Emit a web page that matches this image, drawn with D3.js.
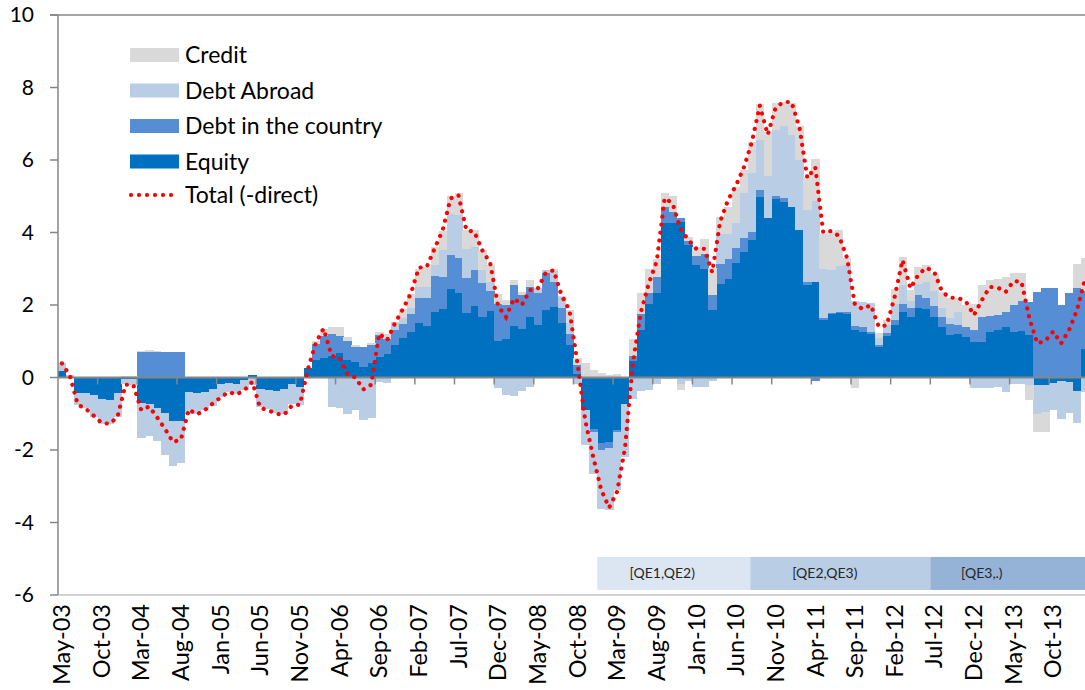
<!DOCTYPE html>
<html lang="en">
<head>
<meta charset="UTF-8">
<title>Portfolio flows</title>
<script src="https://d3js.org/d3.v7.min.js"></script>
<style>
  body { margin: 0; background: #fff; }
  svg { display: block; }
  text { font-family: Lato, "Open Sans", sans-serif; fill: #000; }
</style>
</head>
<body>
<script>
// monthly, May-03 .. Feb-14
const monthNames = ['Jan','Feb','Mar','Apr','May','Jun','Jul','Aug','Sep','Oct','Nov','Dec']
const months = []
for (let i = 0; i < 130; i++) {
  const m = (4 + i) % 12, yr = 3 + Math.floor((4 + i) / 12)
  months.push(monthNames[m] + '-' + String(yr).padStart(2, '0'))
}

const equity = [
  0.17, 0, -0.42, -0.44, -0.49, -0.6, -0.63, -0.44, -0.05, -0.05,
  -0.7, -0.72, -0.83, -0.97, -1.2, -1.2, -0.4, -0.42, -0.4, -0.33,
  -0.18, -0.15, -0.17, -0.07, 0.08, -0.33, -0.35, -0.37, -0.33, -0.17,
  -0.26, 0.25, 0.48, 0.55, 0.6, 0.68, 0.48, 0.43, 0.28, 0.39,
  0.57, 0.66, 0.89, 1.1, 1.26, 1.49, 1.43, 1.81, 1.88, 2.43,
  2.34, 1.78, 1.98, 1.66, 1.84, 1.01, 1.05, 1.43, 1.33, 1.67,
  1.45, 1.86, 1.95, 1.51, 0.89, 0.1, -0.9, -1.41, -1.82, -1.77,
  -1.45, -0.72, 0.45, 1.31, 2.04, 2.32, 4.25, 4.25, 4.3, 3.65,
  3.1, 3.0, 1.86, 2.59, 2.73, 3.16, 3.47, 3.79, 4.98, 4.39,
  4.92, 4.85, 4.69, 4.08, 2.55, 2.64, 1.6, 1.75, 1.77, 1.75,
  1.31, 1.26, 1.2, 0.83, 1.14, 1.44, 1.81, 1.66, 1.93, 1.88,
  1.67, 1.4, 1.17, 1.2, 1.12, 0.98, 0.98, 1.26, 1.32, 1.38,
  1.26, 1.29, 1.17, -0.2, -0.2, -0.15, -0.1, -0.12, -0.37, 0.8
]
const debtCountry = [
  0, 0, 0, 0, 0, 0, 0, 0, 0, 0,
  0.71, 0.71, 0.71, 0.71, 0.71, 0.71, 0, 0, 0, 0,
  0, 0, 0, 0, 0, 0, 0, 0, 0, 0,
  0, 0, 0.45, 0.59, 0.6, 0.46, 0.53, 0.41, 0.55, 0.51,
  0.6, 0.41, 0.43, 0.37, 0.49, 0.69, 0.75, 0.98, 0.9, 0.95,
  0.95, 0.97, 0.98, 0.94, 0.55, 1.03, 0.95, 1.12, 0.94, 0.83,
  0.88, 1.01, 0.69, 0.4, 0.3, 0.25, 0, -0.09, -0.17, -0.18,
  -0.05, 0, 0.15, 0.44, 0.28, 0.44, 0.46, 0.32, 0.1, 0.12,
  0.25, 0.41, 0.41, 0.53, 0.53, 0.4, 0.39, 0.23, 0.2, 0,
  0.1, 0.09, 0, 0, 0.09, -0.1, 0.03, 0.02, 0.05, 0.06,
  0.11, 0.12, 0.05, 0.06, 0.09, 0.16, 0.21, 0.27, 0.34, 0.3,
  0.29, 0.26, 0.3, 0.25, 0.28, 0.34, 0.69, 0.43, 0.4, 0.43,
  0.74, 0.83, 0.92, 2.36, 2.48, 2.46, 2.0, 2.34, 2.48, 1.6
]
const debtAbroad = [
  0.22, 0.08, -0.34, -0.39, -0.6, -0.67, -0.65, -0.64, -0.12, -0.15,
  -0.96, -0.88, -0.93, -1.17, -1.25, -1.16, -0.6, -0.6, -0.5, -0.45,
  -0.35, -0.25, -0.28, -0.28, -0.2, -0.48, -0.53, -0.61, -0.68, -0.55,
  -0.5, 0, 0, 0, -0.8, -0.84, -1.02, -0.9, -1.18, -1.13,
  -0.12, -0.15, 0.21, 0.16, 0.16, 0.32, 0.32, 0.3, 0.75, 1.12,
  1.2, 0.8, 0.64, 0.37, 0.25, -0.3, -0.47, -0.5, -0.36, -0.27,
  0.14, 0.09, 0.3, 0.3, 0.3, -0.18, -0.96, -1.15, -1.63, -1.7,
  -1.6, -1.47, -0.58, -0.37, -0.35, -0.17, -0.05, -0.05, -0.17, -0.1,
  -0.26, -0.26, -0.1, 0.85, 0.71, 0.69, 1.22, 1.61, 1.38, 1.17,
  1.81, 2.0, 2.0, 1.91, 1.98, 2.23, 1.36, 1.2, 1.26, 1.29,
  0.69, 0.71, 0.81, 0.21, 0.21, 0.44, 0.52, 0.19, 0.32, 0.46,
  0.44, 0.26, 0.16, 0.37, 0, -0.3, -0.3, -0.3, -0.25, -0.4,
  -0.18, -0.18, -0.2, -0.81, -0.76, -0.76, -1.04, -0.87, -0.88, -0.4
]
const credit = [
  0, 0, 0, 0, 0, 0, 0, 0, 0.03, 0.03,
  0.02, 0.04, 0.03, 0, 0, 0, 0, 0, 0, 0,
  0, 0, 0, 0, 0, 0, 0, 0, 0, 0,
  0, 0, 0.07, 0.21, 0.2, 0.24, 0.1, 0.05, 0.02, 0.05,
  0.09, 0.14, 0, 0.25, 0.4, 0.5, 0.55, 0.51, 0.5, 0.5,
  0.6, 0.51, 0.46, 0.55, 0.45, 0.26, 0.14, 0.14, 0.09, 0.18,
  0, 0, 0.05, 0.05, 0.36, 0.2, 0.4, 0.22, 0.13, 0.06,
  0.09, 0, 0.45, 0.57, 0.66, 0.5, 0.37, 0.43, -0.17, 0.1,
  0.26, 0.41, 0.75, 0.46, 0.74, 1.0, 0.64, 0.87, 0.99, 1.2,
  0.75, 0.67, 0.87, 0.95, 0.9, 1.17, 0.97, 1.04, 0.99, 0.2,
  -0.28, 0, 0, 0.13, 0.14, 0.39, 0.78, 0.3, 0.46, 0.46,
  0.46, 0.45, 0.55, 0.37, 0.6, 0.7, 0.87, 1.0, 1.0, 0.97,
  0.89, 0.77, -0.42, -0.48, -0.55, 0, 0, 0, 0.66, 0.9
]
const totalDirect = [
  0.39, 0.05, -0.75, -0.86, -1.05, -1.25, -1.28, -1.09, -0.2, -0.2,
  -0.9, -0.8, -1.1, -1.42, -1.78, -1.71, -0.88, -1.02, -0.9, -0.72,
  -0.55, -0.4, -0.47, -0.35, -0.12, -0.84, -0.9, -1.0, -1.03, -0.77,
  -0.75, 0.22, 0.95, 1.35, 0.6, 0.54, 0.09, 0.0, -0.33, -0.2,
  1.21, 1.03, 1.5, 1.89, 2.32, 3.03, 3.05, 3.56, 4.06, 4.94,
  5.03, 4.06, 4.02, 3.51, 3.16, 1.97, 1.67, 2.18, 2.0, 2.41,
  2.45, 2.89, 2.96, 2.27, 1.85, 0.4, -1.2, -2.2, -3.1, -3.59,
  -3.15, -1.94, 0.4, 1.8, 2.6, 3.2, 4.95, 4.8, 4.1, 3.79,
  3.55, 3.55, 2.9, 4.3, 4.9, 5.3, 5.8, 6.5, 7.5, 6.7,
  7.45, 7.6, 7.6, 6.9, 5.5, 5.8, 4.0, 4.04, 3.9, 3.3,
  2.0, 1.89, 2.0, 1.4, 1.44, 2.22, 3.24, 2.46, 2.84, 3.03,
  2.91, 2.36, 2.2, 2.2, 2.09, 1.72, 2.13, 2.5, 2.48, 2.36,
  2.66, 2.64, 1.63, 0.94, 1.01, 1.27, 0.94, 1.31, 1.86, 2.71
]

const seriesKeys = ['Equity', 'Debt in the country', 'Debt Abroad', 'Credit']
const seriesColors = ['#0070C0', '#558ED5', '#B9CDE5', '#D9D9D9']
const yTicks = [-6, -4, -2, 0, 2, 4, 6, 8, 10]

// QE periods, in month positions
const qeLabels = ['[QE1,QE2)', '[QE2,QE3)', '[QE3,.)']
const qeStart = [68, 87.3, 110]
const qeEnd = [87.3, 110, 130]
const qeTextAt = [76.2, 96.7, 116.5]
const qeColors = ['#DCE6F2', '#B9CDE5', '#95B3D7']

const width = 1085
const height = 690
const left = 58
const step = 7.93

const svg = d3.select('body').append('svg')
  .attr('width', width)
  .attr('height', height)

const x = d3.scaleBand()
  .domain(months)
  .range([left, left + step * months.length])
  .padding(0)

const xPos = d3.scaleLinear()
  .domain([0, months.length])
  .range([left, left + step * months.length])

const y = d3.scaleLinear()
  .domain([-6, 10])
  .range([595, 15])

const table = months.map((m, i) => ({
  month: m,
  'Equity': equity[i],
  'Debt in the country': debtCountry[i],
  'Debt Abroad': debtAbroad[i],
  'Credit': credit[i]
}))

const stacked = d3.stack()
  .keys(seriesKeys)
  .offset(d3.stackOffsetDiverging)(table)

const gBars = svg.append('g').attr('shape-rendering', 'crispEdges')
gBars.selectAll('g')
  .data(stacked)
  .enter()
  .append('g')
  .attr('fill', (d, i) => seriesColors[i])
  .selectAll('rect')
  .data(d => d)
  .enter()
  .append('rect')
  .attr('x', d => x(d.data.month))
  .attr('width', x.bandwidth() + 0.4)
  .attr('y', d => y(Math.max(d[0], d[1])))
  .attr('height', d => Math.abs(y(d[0]) - y(d[1])))

// QE bands
const gQE = svg.append('g')
qeLabels.forEach((lab, i) => {
  gQE.append('rect')
    .attr('x', xPos(qeStart[i]))
    .attr('width', xPos(qeEnd[i]) - xPos(qeStart[i]))
    .attr('y', y(-4.95))
    .attr('height', y(-5.86) - y(-4.95))
    .attr('fill', qeColors[i])
  gQE.append('text')
    .attr('x', xPos(qeTextAt[i]))
    .attr('y', (y(-4.95) + y(-5.86)) / 2)
    .attr('dy', '0.35em')
    .attr('text-anchor', 'middle')
    .style('font-size', '14px')
    .style('fill', '#262626')
    .text(lab)
})

// axes
const axisColor = '#868686'
const gAxis = svg.append('g')
gAxis.append('line')
  .attr('x1', left).attr('x2', left)
  .attr('y1', y(10)).attr('y2', y(-6))
  .attr('stroke', axisColor).attr('stroke-width', 1.5)
gAxis.selectAll('.ytick')
  .data(yTicks)
  .enter()
  .append('line')
  .attr('x1', left - 8).attr('x2', left)
  .attr('y1', d => y(d)).attr('y2', d => y(d))
  .attr('stroke', axisColor).attr('stroke-width', 1.5)
gAxis.selectAll('.ylab')
  .data(yTicks)
  .enter()
  .append('text')
  .attr('x', 34)
  .attr('y', d => y(d))
  .attr('dy', '0.35em')
  .attr('text-anchor', 'end')
  .style('font-size', '21px')
  .text(d => d)

// top and bottom lines
gAxis.append('line')
  .attr('x1', left - 8).attr('x2', width)
  .attr('y1', y(10)).attr('y2', y(10))
  .attr('stroke', axisColor).attr('stroke-width', 1.5)
gAxis.append('line')
  .attr('x1', left - 8).attr('x2', width)
  .attr('y1', y(-6)).attr('y2', y(-6))
  .attr('stroke', '#A6A6A6').attr('stroke-width', 1.2)

// zero line with category ticks
gAxis.append('line')
  .attr('x1', left).attr('x2', width)
  .attr('y1', y(0)).attr('y2', y(0))
  .attr('stroke', axisColor).attr('stroke-width', 2)
const labelIdx = d3.range(0, months.length, 5)
gAxis.selectAll('.xtick')
  .data(labelIdx.filter(i => i > 0))
  .enter()
  .append('line')
  .attr('x1', i => xPos(i)).attr('x2', i => xPos(i))
  .attr('y1', y(0)).attr('y2', y(0) + 7)
  .attr('stroke', axisColor).attr('stroke-width', 1.5)

gAxis.selectAll('.xlab')
  .data(labelIdx)
  .enter()
  .append('text')
  .attr('transform', i => `translate(${x(months[i]) + x.bandwidth() / 2}, 604) rotate(-90)`)
  .attr('dy', '0.35em')
  .attr('text-anchor', 'end')
  .style('font-size', '23.5px')
  .text(i => months[i])

// total line
const line = d3.line()
  .x((d, i) => x(months[i]) + x.bandwidth() / 2)
  .y(d => y(d))
svg.append('path')
  .datum(totalDirect)
  .attr('d', line)
  .attr('fill', 'none')
  .attr('stroke', '#FF0000')
  .attr('stroke-width', 4.2)
  .attr('stroke-linecap', 'round')
  .attr('stroke-dasharray', '0.1 7.9')

// legend
const legendItems = ['Credit', 'Debt Abroad', 'Debt in the country', 'Equity']
const legendColors = ['#D9D9D9', '#B9CDE5', '#558ED5', '#0070C0']
const gLegend = svg.append('g')
legendItems.forEach((name, i) => {
  const top = 48 + i * 35.5
  gLegend.append('rect')
    .attr('x', 130).attr('y', top)
    .attr('width', 49).attr('height', 14)
    .attr('fill', legendColors[i])
  gLegend.append('text')
    .attr('x', 185).attr('y', top + 7)
    .attr('dy', '0.35em')
    .style('font-size', '23px')
    .text(name)
})
gLegend.append('line')
  .attr('x1', 131).attr('x2', 178)
  .attr('y1', 195).attr('y2', 195)
  .attr('stroke', '#FF0000')
  .attr('stroke-width', 4.2)
  .attr('stroke-linecap', 'round')
  .attr('stroke-dasharray', '0.1 7.9')
gLegend.append('text')
  .attr('x', 185).attr('y', 195)
  .attr('dy', '0.35em')
  .style('font-size', '23px')
  .text('Total (-direct)')
</script>
</body>
</html>
